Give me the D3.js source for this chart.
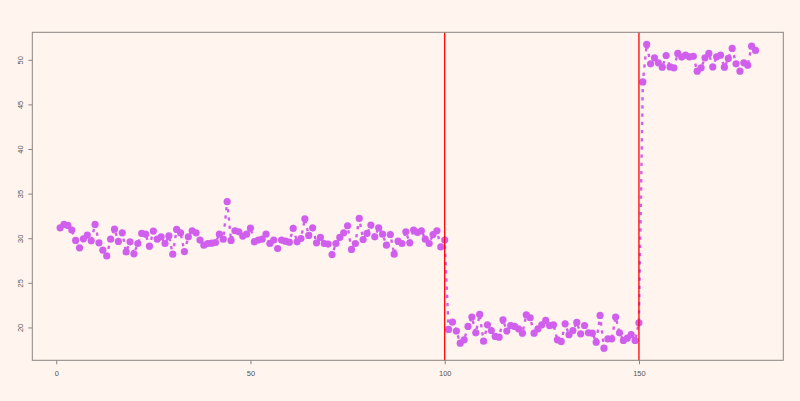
<!DOCTYPE html>
<html><head><meta charset="utf-8">
<script src="https://cdn.jsdelivr.net/npm/d3@7"></script>
<style>html,body{margin:0;padding:0;background:#FFF5EE;}svg{display:block;}</style>
</head><body>
<svg id="chart" width="800" height="401"></svg>
<script>
const segment1 = [31.17,31.55,31.43,30.91,29.75,28.92,29.93,30.35,29.71,31.55,
  29.48,28.66,28.02,29.9,31.02,29.64,30.61,28.47,29.6,28.25,
  29.41,30.54,30.46,29.11,30.8,29.9,30.16,29.41,30.27,28.21,
  30.99,30.61,28.51,30.16,30.84,30.61,29.79,29.22,29.41,29.45,
  29.52,30.46,29.9,34.1,29.75,30.84,30.72,30.24,30.46,31.14,
  29.6,29.79,29.9,30.46,29.41,29.79,28.85,29.79,29.67,29.56,
  31.1,29.6,29.97,32.18,30.31,31.17,29.48,30.09,29.41,29.34,
  28.17,29.41,30.09,30.61,31.4,28.74,29.41,32.22,29.86,30.54,
  31.47,30.16,31.17,30.46,29.22,30.42,28.21,29.67,29.41,30.72,
  29.48,30.91,30.65,30.84,29.9,29.41,30.42,30.84,29.03,29.79];
const segment2 = [19.78,20.6,19.6,18.24,18.61,20.11,21.16,19.4,21.46,18.46,
  20.3,19.66,18.99,18.91,20.86,19.59,20.22,20.11,19.85,19.36,
  21.42,21.09,19.36,19.85,20.3,20.79,20.22,20.3,18.61,18.43,
  20.41,19.18,19.66,20.56,19.29,20.22,19.4,19.36,18.35,21.35,
  17.68,18.73,18.73,21.16,19.4,18.54,18.8,19.21,18.54,20.52];
const segment3 = [47.52,51.72,49.55,50.22,49.66,49.17,50.48,49.2,49.1,50.71,
  50.3,50.52,50.33,50.4,48.72,49.1,50.22,50.71,49.2,50.33,
  50.52,49.17,50.15,51.27,49.55,48.72,49.66,49.4,51.53,51.05];
const changePoints = [100, 150];
const xTicks = [0, 50, 100, 150];
const yTicks = [20, 25, 30, 35, 40, 45, 50];

const values = segment1.concat(segment2, segment3);
const data = values.map((v, i) => ({x: i + 1, y: v}));

const svg = d3.select("#chart");
const L = 32.3, R = 783.3, T = 32.3, B = 360.3;

const n = data.length;
const xr = n - 1;
const x = d3.scaleLinear().domain([1 - 0.04 * xr, n + 0.04 * xr]).range([L, R]);
const ymin = d3.min(values), ymax = d3.max(values), yr = ymax - ymin;
const y = d3.scaleLinear().domain([ymin - 0.04 * yr, ymax + 0.04 * yr]).range([B, T]);

// line
svg.append("path")
  .datum(data)
  .attr("fill", "none")
  .attr("stroke", "#D15FEE")
  .attr("stroke-width", 2.4)
  .attr("stroke-dasharray", "3.3,4.9")
  .attr("d", d3.line().x(d => x(d.x)).y(d => y(d.y)));

// points
svg.append("g").selectAll("circle").data(data).join("circle")
  .attr("cx", d => x(d.x)).attr("cy", d => y(d.y))
  .attr("r", 3.6).attr("fill", "#D15FEE");

// change lines
svg.append("g").selectAll("line").data(changePoints).join("line")
  .attr("x1", d => x(d)).attr("x2", d => x(d))
  .attr("y1", T).attr("y2", B)
  .attr("stroke", "#FF0000").attr("stroke-width", 1.3);

// box
svg.append("rect").attr("x", L).attr("y", T).attr("width", R - L).attr("height", B - T)
  .attr("fill", "none").attr("stroke", "#8B8480").attr("stroke-width", 1);

// x axis
const xAxis = d3.axisBottom(x).tickValues(xTicks).tickSize(4).tickPadding(6).tickFormat(d3.format("d"));
const gx = svg.append("g").attr("transform", `translate(0,${B})`).call(xAxis);
gx.select(".domain").remove();
gx.selectAll("line").attr("stroke", "#8B8480");
gx.selectAll("text").attr("fill", "#555").style("font-family", "Liberation Sans, Arial, sans-serif").style("font-size", "7.5px");

// y axis
const yAxis = d3.axisLeft(y).tickValues(yTicks).tickSize(4).tickPadding(0).tickFormat(d3.format("d"));
const gy = svg.append("g").attr("transform", `translate(${L},0)`).call(yAxis);
gy.select(".domain").remove();
gy.selectAll("line").attr("stroke", "#8B8480");
gy.selectAll("text")
  .attr("fill", "#555")
  .attr("x", 0).attr("dy", null)
  .attr("text-anchor", "middle")
  .attr("transform", "translate(-11,0) rotate(-90)")
  .attr("dominant-baseline", "middle")
  .style("font-family", "Liberation Sans, Arial, sans-serif").style("font-size", "7.5px");
</script>
</body></html>
